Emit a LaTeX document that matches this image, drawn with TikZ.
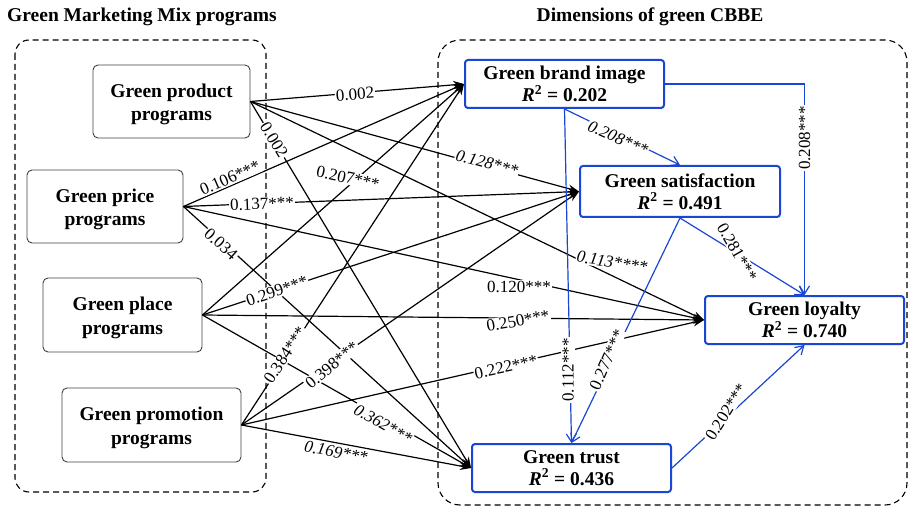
\documentclass[tikz,border=0pt]{standalone}
\usepackage{fontspec}
\setmainfont{Liberation Serif}
\usetikzlibrary{arrows.meta}
\definecolor{bl}{RGB}{25,70,210}
\newcommand{\lowtxt}[1]{\raisebox{-3pt}[\height][\depth]{\begin{tabular}{@{}c@{}}#1\end{tabular}}}
\begin{document}
\begin{tikzpicture}[x=1pt,y=-1pt,
  mixbox/.style={draw=black!75,rounded corners=5pt,line width=0.9pt,align=center,
    font=\fontsize{19.5}{23.5}\selectfont\bfseries,inner sep=0pt},
  cbbe/.style={draw=bl,rounded corners=3pt,line width=2pt,align=center,
    font=\fontsize{19.5}{22}\selectfont\bfseries,inner sep=0pt},
  ttl/.style={font=\fontsize{19.5}{22}\selectfont\bfseries,inner sep=0pt},
  blk/.style={line width=1.2pt,-{Stealth[length=11pt,width=8pt]}},
  blu/.style={draw=bl,line width=1.2pt,-{Straight Barb[length=8pt,width=10pt]}},
  lab/.style={fill=white,inner sep=1pt,font=\fontsize{17}{17}\selectfont},
  grp/.style={draw=black,line width=1.1pt,dash pattern=on 6pt off 4pt}
]
\useasboundingbox (0,0) rectangle (909,510);
% group frames
\draw[grp,rounded corners=14pt] (15,40) rectangle (266,492);
\draw[grp,rounded corners=22pt] (438,40) rectangle (907,505);
% titles
\node[ttl] (t1) at (142,17) {Green Marketing Mix programs};
\node[ttl] (t2) at (650,17) {Dimensions of green CBBE};
% left nodes
\node[mixbox,minimum width=157pt,minimum height=73pt] (prod) at (171.5,101.5) {\lowtxt{Green product\\programs}};
\node[mixbox,minimum width=156pt,minimum height=73pt] (price) at (105,206.5) {\lowtxt{Green price\\programs}};
\node[mixbox,minimum width=159pt,minimum height=74pt] (place) at (122.5,315) {\lowtxt{Green place\\programs}};
\node[mixbox,minimum width=179pt,minimum height=74pt] (promo) at (151.5,425) {\lowtxt{Green promotion\\programs}};
% right nodes
\node[cbbe,minimum width=199pt,minimum height=48pt] (brand) at (564.5,84) {Green brand image\\\textit{R}\textsuperscript{2} = 0.202};
\node[cbbe,minimum width=200pt,minimum height=51pt] (sat) at (680,191.5) {Green satisfaction\\\textit{R}\textsuperscript{2} = 0.491};
\node[cbbe,minimum width=199pt,minimum height=48pt] (loy) at (804.5,320) {Green loyalty\\\textit{R}\textsuperscript{2} = 0.740};
\node[cbbe,minimum width=199pt,minimum height=48pt] (trust) at (571.5,468) {Green trust\\\textit{R}\textsuperscript{2} = 0.436};
% black edges
\draw[blk] (prod.east) -- (brand.west);
\draw[blk] (prod.east) -- (sat.west);
\draw[blk] (prod.east) -- (loy.west);
\draw[blk] (prod.east) -- (trust.west);
\draw[blk] (price.east) -- (brand.west);
\draw[blk] (price.east) -- (sat.west);
\draw[blk] (price.east) -- (loy.west);
\draw[blk] (price.east) -- (trust.west);
\draw[blk] (place.east) -- (brand.west);
\draw[blk] (place.east) -- (sat.west);
\draw[blk] (place.east) -- (loy.west);
\draw[blk] (place.east) -- (trust.west);
\draw[blk] (promo.east) -- (brand.west);
\draw[blk] (promo.east) -- (sat.west);
\draw[blk] (promo.east) -- (loy.west);
\draw[blk] (promo.east) -- (trust.west);
% blue edges
\draw[blu] (brand.south) -- (sat.north);
\draw[blu] (brand.east) -| (loy.north);
\draw[blu] (brand.south) -- (trust.north);
\draw[blu] (sat.south) -- (loy.north);
\draw[blu] (sat.south) -- (trust.north);
\draw[blu] (trust.east) -- (loy.south);
% labels
\node[lab,rotate=4.5] (l1) at (355,94) {0.002};
\node[lab,rotate=-58.8] (l2) at (274,140) {0.002};
\node[lab,rotate=-15,font=\fontsize{17}{17}\selectfont\itshape] (l3) at (487,163) {0.128***};
\node[lab,rotate=-9,font=\fontsize{17}{17}\selectfont\itshape] (l4) at (612,262) {0.113****};
\node[lab,rotate=23.4] (l5) at (230,178) {0.106***};
\node[lab,rotate=2.2] (l6) at (262,204) {0.137***};
\node[lab,rotate=-42] (l7) at (221,244) {0.034};
\node[lab] (l8) at (519,287) {0.120***};
\node[lab,rotate=-12] (l9) at (348,178) {0.207***};
\node[lab,rotate=18.3] (l10) at (277,291) {0.299***};
\node[lab,rotate=10] (l11) at (518,321) {0.250***};
\node[lab,rotate=-29.5,font=\fontsize{17}{17}\selectfont\itshape] (l12) at (383,424) {0.362***};
\node[lab,rotate=56.7] (l13) at (285,355) {0.384***};
\node[lab,rotate=40] (l14) at (332,365) {0.398***};
\node[lab,rotate=12] (l15) at (506,367) {0.222***};
\node[lab,rotate=-10.5,font=\fontsize{17}{17}\selectfont\itshape] (l16) at (336,452) {0.169***};
\node[lab,rotate=-24,font=\fontsize{17}{17}\selectfont\itshape] (l17) at (618,138) {0.208***};
\node[lab,rotate=90] (l18) at (804.5,138) {0.208***};
\node[lab,rotate=90] (l19) at (568,370) {0.112***};
\node[lab,rotate=66] (l20) at (607,360) {0.277***};
\node[lab,rotate=-60] (l21) at (737,252) {0.281***};
\node[lab,rotate=58] (l22) at (726,412) {0.202***};
\end{tikzpicture}
\end{document}
